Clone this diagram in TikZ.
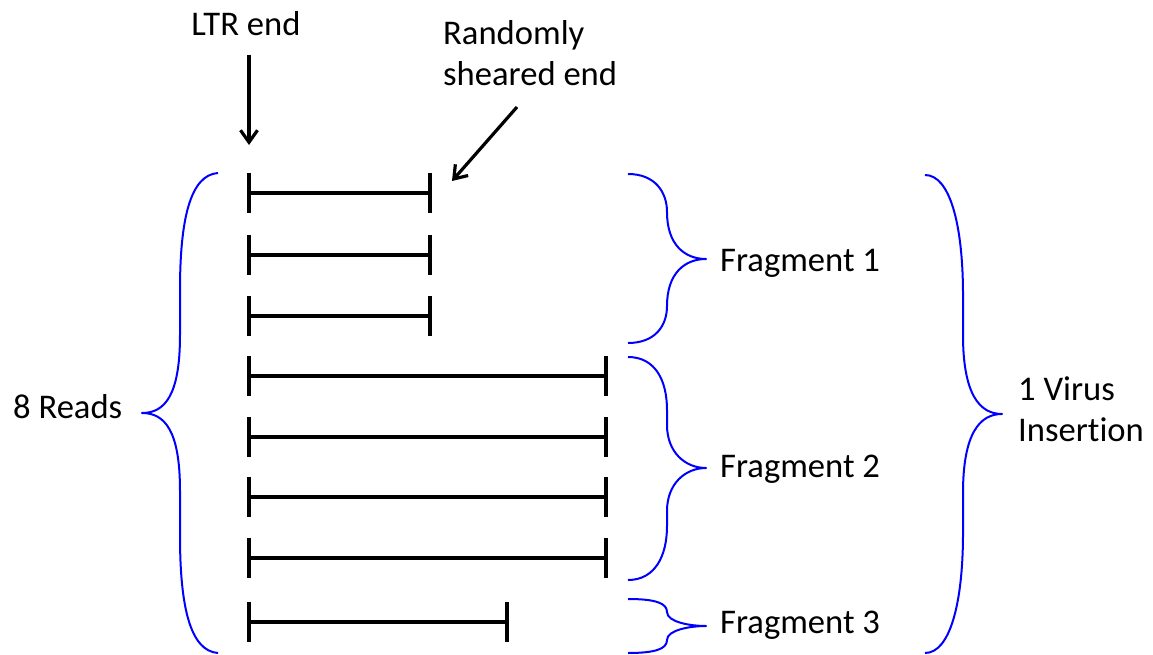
\documentclass[tikz,border=0pt]{standalone}
\usepackage{fontspec}
\setmainfont{Carlito}[Ligatures=NoCommon]
\usetikzlibrary{arrows.meta}
\tikzset{
  lbl/.style={inner sep=0pt, anchor=base west, font=\fontsize{34.6}{41}\selectfont},
  readline/.style={line width=3.5pt, black},
  pointer/.style={line width=3.2pt, black, -{Straight Barb[length=12pt, width=17pt, line width=3.2pt]}},
  grp/.style={line width=2pt, blue, line join=round},
}
\begin{document}
\begin{tikzpicture}[x=1pt, y=-1pt]
\useasboundingbox (0,0) rectangle (1153,655);

% labels
\node[lbl, anchor=base] (ltr) at (246,36) {LTR end};
\node[lbl, align=left, anchor=north west] (shear) at (443,20) {Randomly\\sheared end};
\node[lbl] (reads) at (13,418) {8 Reads};
\node[lbl] (frag1) at (720,271) {Fragment 1};
\node[lbl] (frag2) at (720,477) {Fragment 2};
\node[lbl] (frag3) at (720,633) {Fragment 3};
\node[lbl, align=left, anchor=north west] (virus) at (1018,376) {1 Virus\\Insertion};

% reads: left end, right end
\foreach \i/\y/\xr in {1/193/430, 2/255/430, 3/316/430, 4/376/606, 5/437/606, 6/497/606, 7/558/606, 8/622/507}{
  \coordinate (l\i) at (249,\y);
  \coordinate (r\i) at (\xr,\y);
  \draw[readline] (l\i) -- (r\i);
  \draw[readline] ([yshift=20pt]l\i) -- ([yshift=-20pt]l\i);
  \draw[readline] ([yshift=20pt]r\i) -- ([yshift=-20pt]r\i);
}

% pointers
\coordinate (ltrtail) at (249,55);
\coordinate (ltrtip) at (249,145);
\draw[pointer] (ltrtail) -- (ltrtip);
\coordinate (sheartail) at (517,107);
\coordinate (sheartip) at (452,181);
\draw[pointer] (sheartail) -- (sheartip);

% brace grouping all reads
\draw[grp] (218,173) .. controls (190,175) and (180,220) .. (180,290)
  -- (180,335) .. controls (180,395) and (165,413) .. (142,413)
  .. controls (165,413) and (180,431) .. (180,491)
  -- (180,536) .. controls (180,606) and (190,651) .. (218,653);

% fragment braces
\draw[grp] (628,174) .. controls (655,174) and (667,192) .. (667,212)
  .. controls (667,245) and (685,259) .. (706,259)
  .. controls (685,259) and (667,273) .. (667,306)
  .. controls (667,326) and (655,343) .. (628,343);
\draw[grp] (628,357) .. controls (655,357) and (667,380) .. (667,410)
  -- (667,425) .. controls (667,452) and (685,468) .. (706,468)
  .. controls (685,468) and (667,484) .. (667,511)
  -- (667,526) .. controls (667,556) and (655,580) .. (628,580);
\draw[grp] (628,599) .. controls (655,599) and (667,603) .. (667,612)
  .. controls (667,622) and (690,626) .. (706,626)
  .. controls (690,626) and (667,630) .. (667,640)
  .. controls (667,649) and (655,653) .. (628,653);

% brace for the whole insertion
\draw[grp] (925,175) .. controls (950,175) and (963,225) .. (963,295)
  -- (963,335) .. controls (963,395) and (980,414) .. (1002,414)
  .. controls (980,414) and (963,433) .. (963,493)
  -- (963,533) .. controls (963,603) and (950,653) .. (925,653);
\end{tikzpicture}
\end{document}
